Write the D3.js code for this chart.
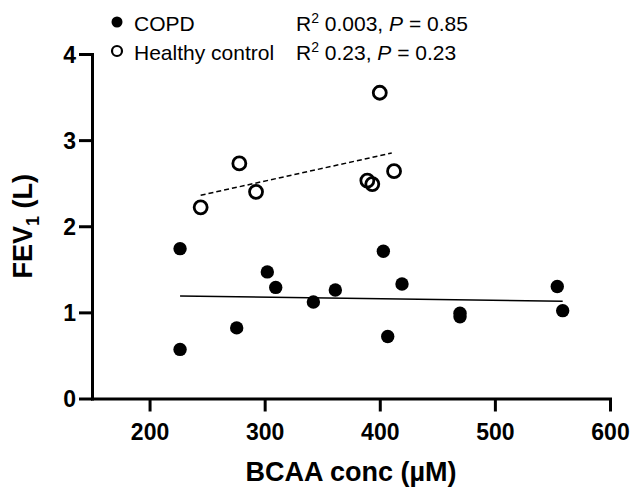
<!DOCTYPE html>
<html>
<head>
<meta charset="utf-8">
<script src="https://cdn.jsdelivr.net/npm/d3@7"></script>
<style>
  body { margin: 0; background: #fff; }
  text { font-family: "Liberation Sans", Arial, sans-serif; }
</style>
</head>
<body>
<div id="chart"></div>
<script>
// data
var copdX = [226.5, 226.5, 275.7, 302.3, 309.6, 342.3, 361.4, 403.1, 419.3, 406.9, 469.7, 469.7, 554.2, 558.9];
var copdY = [1.74, 0.57, 0.82, 1.47, 1.29, 1.12, 1.26, 1.71, 1.33, 0.72, 0.99, 0.95, 1.30, 1.02];
var healthyX = [244.4, 278.0, 292.5, 389.2, 393.5, 412.4, 400.0];
var healthyY = [2.22, 2.73, 2.40, 2.53, 2.49, 2.64, 3.55];
// fitted lines (end points)
var copdFit = [[226.5, 1.19], [558.9, 1.13]];
var healthyFit = [[244.4, 2.36], [410.4, 2.85]];
var xTicks = [200, 300, 400, 500, 600];
var yTicks = [0, 1, 2, 3, 4];
var legendNames = ["COPD", "Healthy control"];
var legendR2 = ["0.003", "0.23"];
var legendP = ["0.85", "0.23"];

var svg = d3.select("#chart")
  .append("svg")
  .attr("width", 633)
  .attr("height", 489);

var x = d3.scaleLinear().domain([150, 600]).range([92, 610]);
var y = d3.scaleLinear().domain([0, 4]).range([398.5, 54]);

// axes
var xAxis = svg.append("g")
  .attr("transform", "translate(0," + y(0) + ")")
  .call(d3.axisBottom(x).tickValues(xTicks).tickSize(13).tickSizeOuter(0).tickPadding(7));
var yAxis = svg.append("g")
  .attr("transform", "translate(" + x(150) + ",0)")
  .call(d3.axisLeft(y).tickValues(yTicks).tickFormat(d3.format("d")).tickSize(13).tickSizeOuter(0).tickPadding(3));

[xAxis, yAxis].forEach(function (g) {
  g.select(".domain").attr("stroke", "#000").attr("stroke-width", 3).attr("stroke-linecap", "square");
  g.selectAll(".tick line").attr("stroke", "#000").attr("stroke-width", 3);
  g.selectAll(".tick text")
    .attr("fill", "#000")
    .style("font-size", "23px")
    .style("font-weight", "bold")
    .style("font-family", "Liberation Sans, Arial, sans-serif");
});
xAxis.selectAll(".tick text").attr("dy", "0.95em");
yAxis.selectAll(".tick text").attr("dy", "0.36em");

// axis titles
svg.append("text")
  .attr("x", (x(150) + x(600)) / 2)
  .attr("y", 481)
  .attr("text-anchor", "middle")
  .style("font-size", "27px")
  .style("font-weight", "bold")
  .text("BCAA conc (µM)");

var yt = svg.append("text")
  .attr("transform", "translate(32," + ((y(0) + y(4)) / 2) + ") rotate(-90)")
  .attr("text-anchor", "middle")
  .style("font-size", "27px")
  .style("font-weight", "bold");
yt.append("tspan").text("FEV");
yt.append("tspan").attr("dy", 7).style("font-size", "18px").text("1");
yt.append("tspan").attr("dy", -7).text(" (L)");

// fit lines
var line = d3.line().x(function (d) { return x(d[0]); }).y(function (d) { return y(d[1]); });
svg.append("path").attr("d", line(copdFit))
  .attr("fill", "none").attr("stroke", "#000").attr("stroke-width", 1.5);
svg.append("path").attr("d", line(healthyFit))
  .attr("fill", "none").attr("stroke", "#000").attr("stroke-width", 1.5)
  .attr("stroke-dasharray", "5,3");

// points
svg.selectAll("circle.copd")
  .data(d3.range(copdX.length))
  .enter().append("circle")
  .attr("class", "copd")
  .attr("cx", function (i) { return x(copdX[i]); })
  .attr("cy", function (i) { return y(copdY[i]); })
  .attr("r", 6.7)
  .attr("fill", "#000");

svg.selectAll("circle.healthy")
  .data(d3.range(healthyX.length))
  .enter().append("circle")
  .attr("class", "healthy")
  .attr("cx", function (i) { return x(healthyX[i]); })
  .attr("cy", function (i) { return y(healthyY[i]); })
  .attr("r", 6.5)
  .attr("fill", "none")
  .attr("stroke", "#000")
  .attr("stroke-width", 2.8);

// legend
for (var i = 0; i < 2; i++) {
  var ly = 22 + i * 29;
  if (i == 0) {
    svg.append("circle").attr("cx", 117).attr("cy", ly).attr("r", 5.5).attr("fill", "#000");
  } else {
    svg.append("circle").attr("cx", 117).attr("cy", ly).attr("r", 5).attr("fill", "none")
      .attr("stroke", "#000").attr("stroke-width", 2.2);
  }
  svg.append("text").attr("x", 134).attr("y", ly + 9)
    .style("font-size", "21px").text(legendNames[i]);
  var t = svg.append("text").attr("x", 296).attr("y", ly + 9).style("font-size", "21px");
  t.append("tspan").text("R");
  t.append("tspan").attr("dy", -8).style("font-size", "14px").text("2");
  t.append("tspan").attr("dy", 8).text(" " + legendR2[i] + ", ");
  t.append("tspan").style("font-style", "italic").text("P");
  t.append("tspan").text(" = " + legendP[i]);
}
</script>
</body>
</html>
